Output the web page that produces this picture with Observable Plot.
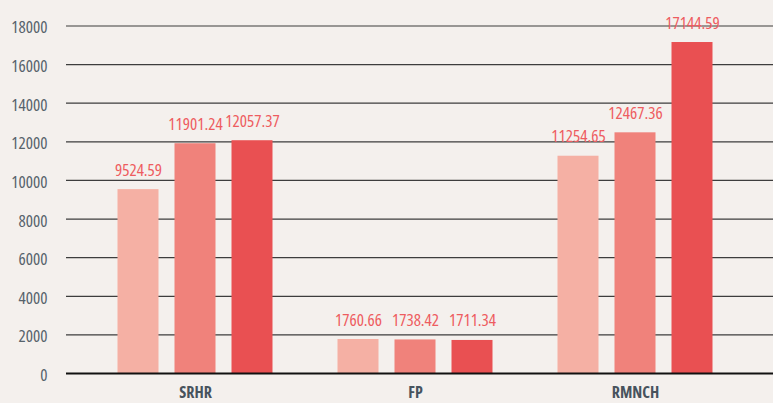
<!DOCTYPE html>
<html><head><meta charset="utf-8">
<script src="https://cdn.jsdelivr.net/npm/d3@7"></script>
<script src="https://cdn.jsdelivr.net/npm/@observablehq/plot@0.6"></script>
<style>
html,body{margin:0;padding:0;background:#F4F0ED;}
#chart svg{font-family:'Open Sans',sans-serif;font-stretch:condensed;}
#chart svg text{font-stretch:condensed;}
</style>
</head><body><div id="chart"></div>
<script>
const categories = ["SRHR", "FP", "RMNCH"];
const series1 = [9524.59, 1760.66, 11254.65];
const series2 = [11901.24, 1738.42, 12467.36];
const series3 = [12057.37, 1711.34, 17144.59];
const yTicks = [0, 2000, 4000, 6000, 8000, 10000, 12000, 14000, 16000, 18000];

const seriesList = [series1, series2, series3];
const seriesColors = ["#F5B0A4", "#F0827B", "#E95052"];
const offsets = [-57, 0, 57];

const marks = [
  Plot.ruleY(yTicks.slice(1), {stroke: "#3d3d3d", strokeWidth: 1.2}),
  Plot.axisY({ticks: yTicks, tickSize: 0, tickPadding: 19, fontSize: 17, fill: "#56626B", tickFormat: d3.format("d"), label: null, dy: 2}),
  Plot.axisX({tickSize: 0, tickPadding: 13, fontSize: 16, fontWeight: "bold", fill: "#47535D", label: null})
];
seriesList.forEach((vals, i) => {
  const rows = categories.map((c, j) => ({category: c, value: vals[j]}));
  marks.push(Plot.barY(rows, {x: "category", y: "value", fill: seriesColors[i], dx: offsets[i], insetLeft: 89.5, insetRight: 89.5}));
  marks.push(Plot.text(rows, {x: "category", y: "value", text: d => d.value.toFixed(2), dx: offsets[i], dy: -14, lineAnchor: "bottom", fill: "#EE5C60", fontSize: 17}));
});
marks.push(Plot.ruleY([0], {stroke: "#111", strokeWidth: 2}));

const chart = Plot.plot({
  width: 773,
  height: 403,
  marginLeft: 66,
  marginRight: 0,
  marginTop: 25.5,
  marginBottom: 30,
  style: {background: "#F4F0ED"},
  x: {domain: categories, paddingInner: 0, paddingOuter: 0.1068, align: 0.394},
  y: {domain: [0, 18000]},
  marks
});
document.getElementById("chart").appendChild(chart);
</script>
</body></html>
